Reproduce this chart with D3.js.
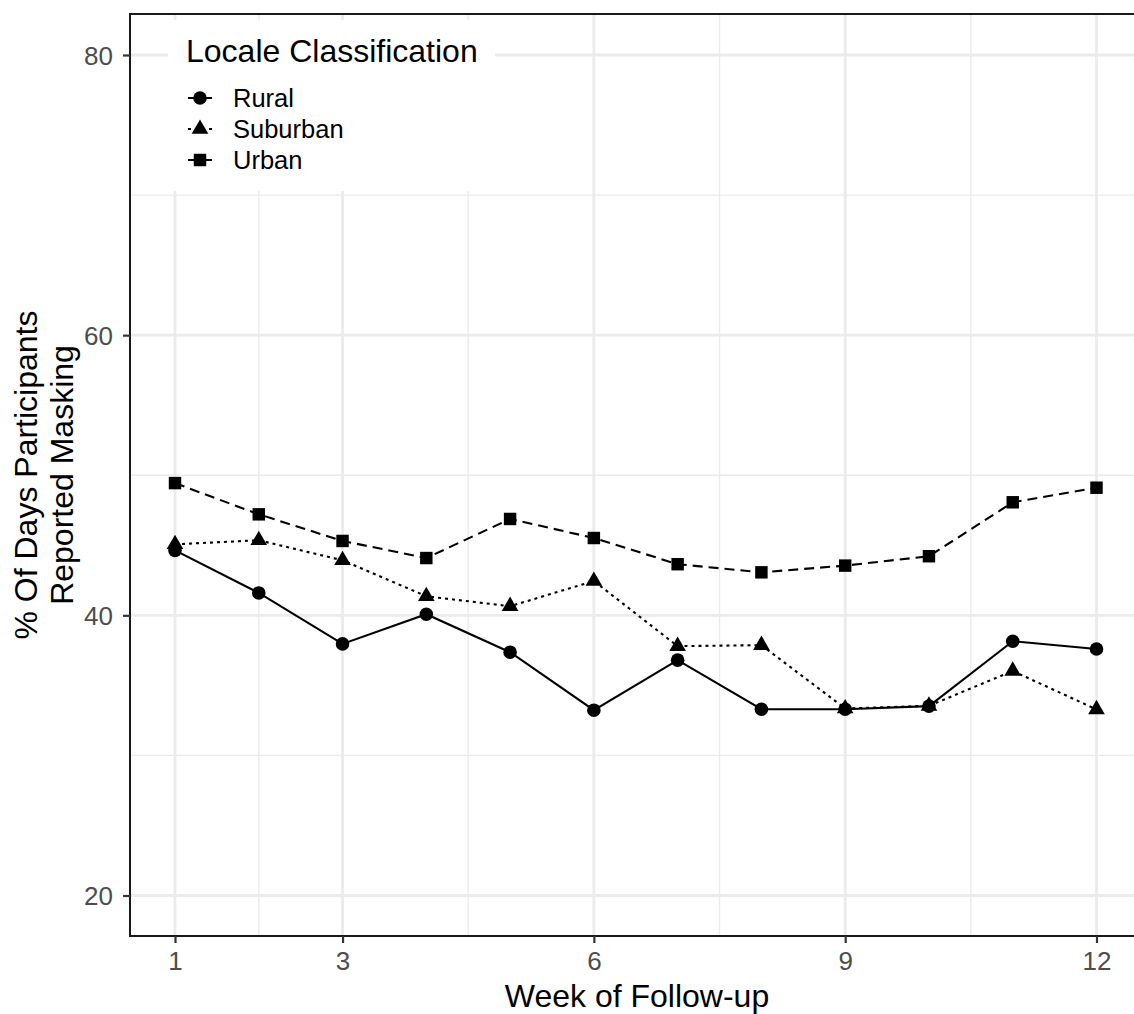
<!DOCTYPE html>
<html>
<head>
<meta charset="utf-8">
<script src="https://cdn.jsdelivr.net/npm/d3@7"></script>
<style>
  html, body { margin: 0; padding: 0; background: #fff; }
  svg { display: block; font-family: "Liberation Sans", Arial, Helvetica, sans-serif; }
</style>
</head>
<body>
<svg id="chart" width="1134" height="1014"></svg>
<script>
const weeks = [1, 2, 3, 4, 5, 6, 7, 8, 9, 10, 11, 12];
const rural    = [44.64, 41.60, 37.96, 40.08, 37.37, 33.23, 36.80, 33.30, 33.30, 33.52, 38.15, 37.60];
const suburban = [45.07, 45.36, 43.93, 41.36, 40.65, 42.45, 37.80, 37.87, 33.35, 33.54, 36.03, 33.28];
const urban    = [49.44, 47.21, 45.31, 44.09, 46.88, 45.52, 43.65, 43.07, 43.55, 44.22, 48.07, 49.11];
const seriesNames = ["Rural", "Suburban", "Urban"];
const xTicks = [1, 3, 6, 9, 12];
const xMinorTicks = [2, 4.5, 7.5, 10.5];
const yTicks = [20, 40, 60, 80];
const yMinorTicks = [30, 50, 70];
const legendTitle = "Locale Classification";
const xTitle = "Week of Follow-up";
const yTitleLines = ["% Of Days Participants", "Reported Masking"];

const svg = d3.select("#chart");
const panel = { left: 130, right: 1144, top: 14, bottom: 936 };

const x = d3.scaleLinear().domain([1, 12]).range([175, 1096.5]);
const y = d3.scaleLinear().domain([20, 80]).range([895.5, 55]);

const grid = svg.append("g");
grid.selectAll(".ymin").data(yMinorTicks).join("line")
  .attr("x1", panel.left).attr("x2", panel.right)
  .attr("y1", d => y(d)).attr("y2", d => y(d))
  .attr("stroke", "#ebebeb").attr("stroke-width", 1.4);
grid.selectAll(".xmin").data(xMinorTicks).join("line")
  .attr("y1", panel.top).attr("y2", panel.bottom)
  .attr("x1", d => x(d)).attr("x2", d => x(d))
  .attr("stroke", "#ebebeb").attr("stroke-width", 1.4);
grid.selectAll(".ymaj").data(yTicks).join("line")
  .attr("x1", panel.left).attr("x2", panel.right)
  .attr("y1", d => y(d)).attr("y2", d => y(d))
  .attr("stroke", "#ebebeb").attr("stroke-width", 2.8);
grid.selectAll(".xmaj").data(xTicks).join("line")
  .attr("y1", panel.top).attr("y2", panel.bottom)
  .attr("x1", d => x(d)).attr("x2", d => x(d))
  .attr("stroke", "#ebebeb").attr("stroke-width", 2.8);

svg.append("rect")
  .attr("x", 168).attr("y", 20).attr("width", 327).attr("height", 171)
  .attr("fill", "#fff");

const series = [
  { name: "Rural", values: rural, dash: null, symbol: d3.symbolCircle, size: 145 },
  { name: "Suburban", values: suburban, dash: "3,4", symbol: d3.symbolTriangle, size: 120 },
  { name: "Urban", values: urban, dash: "10,6", symbol: d3.symbolSquare, size: 155 }
];

const line = d3.line().x(d => x(d.w)).y(d => y(d.v));
series.forEach(s => {
  const pts = weeks.map((w, i) => ({ w, v: s.values[i] }));
  svg.append("path").datum(pts)
    .attr("d", line)
    .attr("fill", "none").attr("stroke", "#000").attr("stroke-width", 2.1)
    .attr("stroke-dasharray", s.dash);
  svg.append("g").selectAll("path").data(pts).join("path")
    .attr("transform", d => `translate(${x(d.w)},${y(d.v)})`)
    .attr("d", d3.symbol(s.symbol, s.size))
    .attr("fill", "#000");
});

svg.append("rect")
  .attr("x", panel.left).attr("y", panel.top)
  .attr("width", panel.right - panel.left).attr("height", panel.bottom - panel.top)
  .attr("fill", "none").attr("stroke", "#1a1a1a").attr("stroke-width", 2);

const yAxis = svg.append("g").attr("transform", `translate(${panel.left},0)`)
  .call(d3.axisLeft(y).tickValues(yTicks).tickSize(7).tickPadding(10));
const xAxis = svg.append("g").attr("transform", `translate(0,${panel.bottom})`)
  .call(d3.axisBottom(x).tickValues(xTicks).tickSize(7).tickPadding(9));
[yAxis, xAxis].forEach(a => {
  a.attr("font-size", 26).attr("font-family", "'Liberation Sans', Arial, sans-serif");
  a.select(".domain").remove();
  a.selectAll(".tick line").attr("stroke", "#333").attr("stroke-width", 2.2);
  a.selectAll(".tick text").attr("fill", "#4d4d4d").attr("font-size", 26);
});
yAxis.selectAll(".tick text").attr("dy", "0.36em");
xAxis.selectAll(".tick text").attr("dy", "0.71em");

svg.append("text")
  .attr("x", (panel.left + panel.right) / 2).attr("y", 1007)
  .attr("text-anchor", "middle").attr("fill", "#000")
  .attr("font-size", 32).text(xTitle);
const yt = svg.append("text")
  .attr("transform", `translate(0,${(panel.top + panel.bottom) / 2}) rotate(-90)`)
  .attr("text-anchor", "middle").attr("fill", "#000")
  .attr("font-size", 32);
yt.selectAll("tspan").data(yTitleLines).join("tspan")
  .attr("x", 0).attr("y", (d, i) => 37 + i * 36).text(d => d);

svg.append("text").attr("x", 186).attr("y", 62)
  .attr("fill", "#000").attr("font-size", 32).text(legendTitle);
const lg = svg.append("g");
series.forEach((s, i) => {
  const cy = 98 + i * 31;
  lg.append("line").attr("x1", 188).attr("x2", 212).attr("y1", cy).attr("y2", cy)
    .attr("stroke", "#000").attr("stroke-width", 2).attr("stroke-dasharray", s.dash);
  lg.append("path").attr("transform", `translate(200,${cy})`)
    .attr("d", d3.symbol(s.symbol, s.size)).attr("fill", "#000");
  lg.append("text").attr("x", 233).attr("y", cy).attr("dy", "0.36em")
    .attr("fill", "#000").attr("font-size", 25.5).text(seriesNames[i]);
});
</script>
</body>
</html>
